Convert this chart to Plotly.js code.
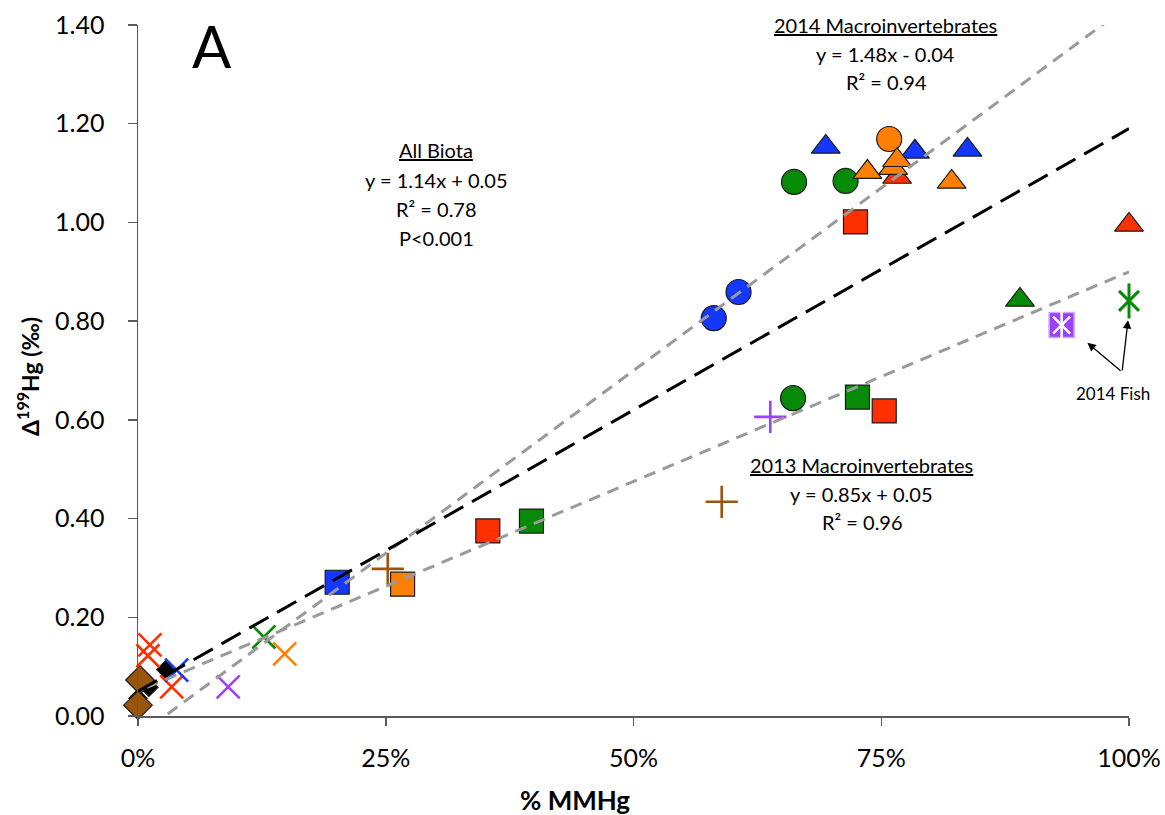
<!DOCTYPE html>
<html><head><meta charset="utf-8">
<script src="https://cdn.plot.ly/plotly-3.0.1.min.js"></script>
<style>html,body{margin:0;padding:0;background:#fff}#chart{width:1165px;height:815px}</style>
</head><body><div id="chart"></div><script>
// ---- data ----
const blueTriX = [0.694, 0.784, 0.837];
const blueTriY = [1.153, 1.143, 1.147];
const orangeTriX = [0.736, 0.762, 0.766, 0.821];
const orangeTriY = [1.102, 1.110, 1.126, 1.082];
const redTriX = [0.766, 1.0];
const redTriY = [1.092, 0.995];
const greenTriX = [0.890];
const greenTriY = [0.843];
const blueCircX = [0.581, 0.606];
const blueCircY = [0.806, 0.859];
const greenCircX = [0.662, 0.714, 0.661];
const greenCircY = [1.082, 1.084, 0.644];
const orangeCircX = [0.758];
const orangeCircY = [1.169];
const blueSqX = [0.201];
const blueSqY = [0.271];
const orangeSqX = [0.267];
const orangeSqY = [0.267];
const redSqX = [0.353, 0.724, 0.753];
const redSqY = [0.375, 1.001, 0.618];
const greenSqX = [0.397, 0.726];
const greenSqY = [0.395, 0.646];
const purplePlusX = [0.638];
const purplePlusY = [0.606];
const brownPlusX = [0.252, 0.589];
const brownPlusY = [0.298, 0.434];
const redXX = [0.012, 0.010, 0.034];
const redXY = [0.144, 0.122, 0.059];
const blueXX = [0.039];
const blueXY = [0.093];
const purpleXX = [0.091];
const purpleXY = [0.059];
const greenXX = [0.127];
const greenXY = [0.160];
const orangeXX = [0.148];
const orangeXY = [0.126];
const blackDiaX = [0.0, 0.011, 0.028];
const blackDiaY = [0.036, 0.058, 0.094];
const brownDiaX = [0.002, 0.0];
const brownDiaY = [0.073, 0.022];
const fishSqX = [0.932];
const fishSqY = [0.792];
const fishAstX = [1.0];
const fishAstY = [0.841];
// trend lines (end points)
const allBiotaX = [0.0, 1.0];
const allBiotaY = [0.05, 1.19];
const macro2014X = [0.03, 1.0];
const macro2014Y = [0.004, 1.44];
const macro2013X = [0.009, 1.0];
const macro2013Y = [0.058, 0.90];
const xTickVals = [0, 0.25, 0.5, 0.75, 1.0];
const yTickVals = [0, 0.2, 0.4, 0.6, 0.8, 1.0, 1.2, 1.4];

const C = {blue:'#1438ff', green:'#078a07', orange:'#ff8000', red:'#ff3000', purple:'#9a40ff', brown:'#99560a', black:'#000000'};

function filled(x, y, sym, color, size) {
  return {type:'scatter', mode:'markers', x:x, y:y, cliponaxis:false, hoverinfo:'skip',
    marker:{symbol:sym, size:size, color:color, line:{color:'#1a1a1a', width:1.2}}};
}
function open(x, y, sym, color, size, w) {
  return {type:'scatter', mode:'markers', x:x, y:y, cliponaxis:false, hoverinfo:'skip',
    marker:{symbol:sym, size:size, color:color, line:{color:color, width:w}}};
}
function line(x, y, color, dash) {
  return {type:'scatter', mode:'lines', x:x, y:y, hoverinfo:'skip',
    line:{color:color, width:3, dash:dash}};
}

const traces = [
  filled(blackDiaX, blackDiaY, 'diamond', C.black, 14),
  filled(brownDiaX, brownDiaY, 'diamond', C.brown, 22),
  open(redXX, redXY, 'x-thin-open', C.red, 23, 2.6),
  open(blueXX, blueXY, 'x-thin-open', C.blue, 23, 2.6),
  open(purpleXX, purpleXY, 'x-thin-open', C.purple, 23, 2.6),
  open(greenXX, greenXY, 'x-thin-open', C.green, 23, 2.6),
  open(orangeXX, orangeXY, 'x-thin-open', C.orange, 23, 2.6),
  open(purplePlusX, purplePlusY, 'cross-thin-open', C.purple, 23, 2.6),
  open(brownPlusX, brownPlusY, 'cross-thin-open', C.brown, 23, 2.6),
  filled(blueSqX, blueSqY, 'square', C.blue, 24),
  filled(orangeSqX, orangeSqY, 'square', C.orange, 24),
  filled(redSqX, redSqY, 'square', C.red, 24),
  filled(greenSqX, greenSqY, 'square', C.green, 24),
  filled(blueCircX, blueCircY, 'circle', C.blue, 25),
  filled(greenCircX, greenCircY, 'circle', C.green, 25),
  filled(orangeCircX, orangeCircY, 'circle', C.orange, 25),
  filled(redTriX, redTriY, 'triangle-up', C.red, 25),
  filled(blueTriX, blueTriY, 'triangle-up', C.blue, 25),
  filled(greenTriX, greenTriY, 'triangle-up', C.green, 25),
  filled(orangeTriX, orangeTriY, 'triangle-up', C.orange, 25),
  {type:'scatter', mode:'markers', x:fishSqX, y:fishSqY, cliponaxis:false, hoverinfo:'skip',
    marker:{symbol:'square', size:25, color:C.purple, line:{color:'#c9a6ff', width:1.5}}},
  open(fishSqX, fishSqY, 'x-thin-open', '#ffffff', 17, 2.6),
  open(fishSqX, fishSqY, 'line-ns-open', '#ffffff', 21, 2.6),
  open(fishAstX, fishAstY, 'x-thin-open', C.green, 20, 3),
  open(fishAstX, fishAstY, 'line-ns-open', C.green, 25, 3),
  line(macro2014X, macro2014Y, '#9a9a9a', '12px,8px'),
  line(macro2013X, macro2013Y, '#9a9a9a', '12px,8px'),
  line(allBiotaX, allBiotaY, '#000000', '22px,10px')
];

const F = 'Lato, "Open Sans", sans-serif';
function txt(s, px, py, size, extra) {
  return Object.assign({text:s, xref:'paper', yref:'paper', x:(px-138)/991, y:(716-py)/691,
    xanchor:'center', yanchor:'middle', showarrow:false, font:{family:F, size:size, color:'#000'}}, extra||{});
}
function arrow(tx, ty, hx, hy) {
  return {text:'', xref:'x', yref:'y', axref:'x', ayref:'y', x:hx, y:hy, ax:tx, ay:ty,
    showarrow:true, arrowhead:2, arrowsize:1.3, arrowwidth:1.3, arrowcolor:'#000', standoff:0, startstandoff:0};
}

const annotations = [
  txt('A', 212, 45, 58),
  txt('<u>All Biota</u>', 436, 150, 20),
  txt('y = 1.14x + 0.05', 436, 180, 20),
  txt('R² = 0.78', 436, 209, 20),
  txt('P<0.001', 436, 238, 20),
  txt('<u>2014 Macroinvertebrates</u>', 885, 25, 20),
  txt('y = 1.48x - 0.04', 885, 54, 20),
  txt('R² = 0.94', 886, 82, 20),
  txt('<u>2013 Macroinvertebrates</u>', 861, 465, 20),
  txt('y = 0.85x + 0.05', 861, 494, 20),
  txt('R² = 0.96', 862, 522, 20),
  txt('2014 Fish', 1113, 393, 17),
  arrow(0.993, 0.697, 0.958, 0.756),
  arrow(0.993, 0.697, 0.999, 0.802),
  txt('<b>Δ<sup>199</sup>Hg (‰)</b>', 28, 377, 23, {textangle:-90}),
  txt('<b>% MMHg</b>', 575, 800, 26)
];

const layout = {
  width:1165, height:815, showlegend:false,
  paper_bgcolor:'#ffffff', plot_bgcolor:'#ffffff',
  margin:{l:138, r:36, t:25, b:99},
  font:{family:F, color:'#000'},
  xaxis:{range:[0,1], tickvals:xTickVals, tickformat:'.0%', showgrid:false, zeroline:false,
    showline:true, linecolor:'#5a5a5a', linewidth:1.5, ticks:'outside', ticklen:8, tickwidth:1.5,
    tickcolor:'#5a5a5a', tickfont:{family:F, size:25, color:'#000'}, ticklabelstandoff:11},
  yaxis:{range:[0,1.4], tickvals:yTickVals, tickformat:'.2f', showgrid:false, zeroline:false,
    showline:true, linecolor:'#5a5a5a', linewidth:1.5, ticks:'outside', ticklen:9, tickwidth:1.5,
    tickcolor:'#5a5a5a', tickfont:{family:F, size:25, color:'#000'}, ticklabelstandoff:18},
  annotations:annotations
};

Plotly.newPlot('chart', traces, layout, {displayModeBar:false, staticPlot:true});
</script></body></html>
